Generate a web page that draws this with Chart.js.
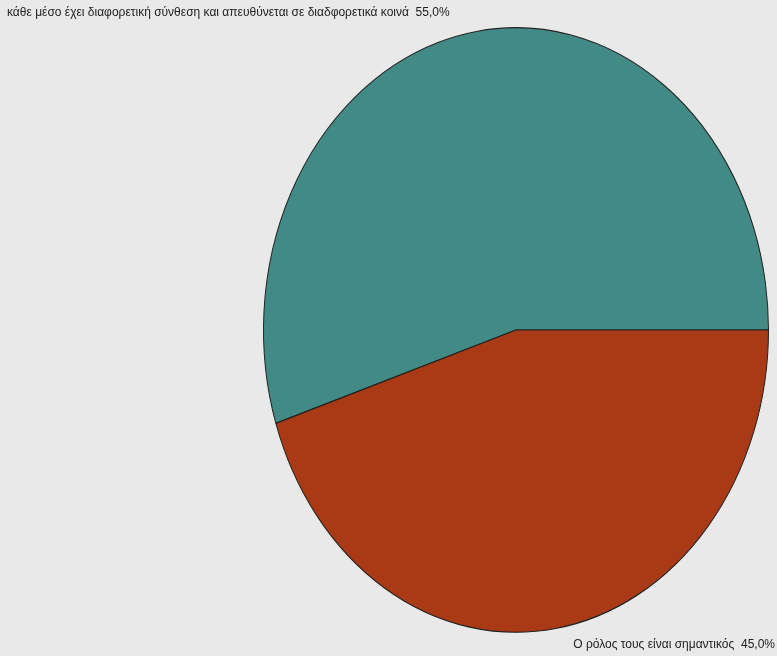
<!DOCTYPE html>
<html>
<head>
<meta charset="utf-8">
<script src="https://cdn.jsdelivr.net/npm/chart.js@4"></script>
<style>
    html, body { margin: 0; padding: 0; background: #e9e9e9; }
    #wrap { width: 777px; height: 656px; }
</style>
</head>
<body>
<div id="wrap"><canvas id="pieChart" width="777" height="656"></canvas></div>
<script>
// Data
const labels = [
    'κάθε μέσο έχει διαφορετική σύνθεση και απευθύνεται σε διαδφορετικά κοινά',
    'Ο ρόλος τους είναι σημαντικός'
];
const percents = [55.0, 45.0];
const colors = ['#428a85', '#aa3916'];

// The original pie is an ellipse, stretch the arcs vertically around the centre
const stretchY = 1.197;

const ellipsePlugin = {
    id: 'ellipse',
    beforeDatasetsDraw(chart) {
        const ctx = chart.ctx;
        const meta = chart.getDatasetMeta(0);
        const cy = meta.data[0].y;
        ctx.save();
        ctx.translate(0, cy);
        ctx.scale(1, stretchY);
        ctx.translate(0, -cy);
    },
    afterDatasetsDraw(chart) {
        chart.ctx.restore();
    }
};

// Slice labels: first at top left, second at bottom right
const labelPlugin = {
    id: 'sliceLabels',
    afterDraw(chart) {
        const ctx = chart.ctx;
        ctx.save();
        ctx.font = "12px 'Liberation Sans', Arial, sans-serif";
        ctx.fillStyle = '#222222';
        ctx.textBaseline = 'middle';
        const fmt = v => v.toFixed(1).replace('.', ',') + '%';

        ctx.textAlign = 'left';
        ctx.fillText(labels[0] + '  ' + fmt(percents[0]), 7, 13);

        ctx.textAlign = 'right';
        ctx.fillText(labels[1] + '  ' + fmt(percents[1]), 775, 645);
        ctx.restore();
    }
};

new Chart(document.getElementById('pieChart').getContext('2d'), {
    type: 'pie',
    data: {
        labels: labels,
        datasets: [{
            data: percents,
            backgroundColor: colors,
            borderColor: '#222222',
            borderWidth: 1
        }]
    },
    options: {
        responsive: false,
        animation: false,
        rotation: 252,
        layout: { padding: { left: 263, right: 8, top: 77, bottom: 73 } },
        plugins: {
            legend: { display: false },
            tooltip: { enabled: false }
        }
    },
    plugins: [ellipsePlugin, labelPlugin]
});
</script>
</body>
</html>
